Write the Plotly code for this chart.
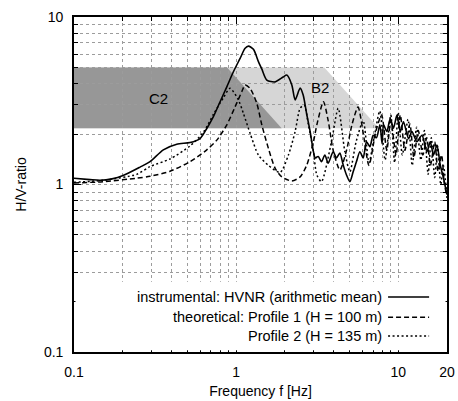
import plotly.graph_objects as go
import math

# ---------------- data ----------------
inst_f = [0.1, 0.1255, 0.1447, 0.1716, 0.2007, 0.2555, 0.2945, 0.3557, 0.4305, 0.52, 0.5995,
          0.6594, 0.7242, 0.7966, 0.8763, 0.9623, 1.0585, 1.1365, 1.191, 1.279, 1.373, 1.44,
          1.547, 1.741, 1.95, 2.056, 2.207, 2.313, 2.483, 2.593, 2.732, 2.863, 3.00, 3.074,
          3.208, 3.362, 3.528, 3.698, 3.97, 4.16, 4.366, 4.576, 4.797, 5.033, 5.275, 5.528,
          5.801, 6.081, 6.373, 6.688, 7.01, 7.345, 7.71, 7.95, 8.12, 8.51, 8.93, 9.35, 9.82,
          10.29, 10.78, 11.58, 12.15, 13.05, 14.01, 15.04, 15.76, 16.52, 17.34, 18.17, 19.04, 19.98]
inst_v = [1.09, 1.07, 1.06, 1.08, 1.13, 1.27, 1.37, 1.61, 1.74, 1.78, 1.88,
          2.16, 2.54, 3.12, 3.83, 4.71, 5.66, 6.5, 6.7, 6.41, 5.42, 4.9,
          4.2, 4.1, 4.38, 4.5, 3.93, 3.2, 3.76, 3.42, 2.6, 2.07, 1.57, 1.44,
          1.47, 1.37, 1.5, 1.34, 1.57, 1.44, 1.54, 1.31, 1.14, 1.04, 1.19, 1.37,
          1.57, 1.44, 1.8, 1.68, 1.97, 1.9, 2.27, 1.75, 2.27, 2.07, 2.48, 2.17, 2.6,
          2.07, 2.37, 1.88, 2.07, 1.8, 1.97, 1.57, 1.8, 1.5, 1.72, 1.31, 1.09, 0.87]

p1_f = [0.1, 0.1517, 0.2438, 0.2945, 0.3913, 0.52, 0.6594, 0.7602, 0.8763, 0.9858, 1.084,
        1.1365, 1.2204, 1.3418, 1.441, 1.583, 1.741, 1.915, 2.207, 2.483, 2.732, 3.00, 3.148,
        3.458, 3.7, 3.97, 4.37, 4.8, 5.2, 5.65, 6.1, 6.6, 7.3, 7.9, 8.5, 9.0, 9.7, 10.3, 11.0,
        11.8, 12.5, 13.3, 14.2, 15.0, 15.8, 16.8, 17.6, 18.5, 19.3, 20]
p1_v = [1.02, 1.04, 1.09, 1.12, 1.2, 1.37, 1.61, 1.84, 2.27, 2.91, 3.58,
        3.93, 3.75, 3.05, 2.27, 1.64, 1.25, 1.11, 1.05, 1.11, 1.31, 1.8, 2.27,
        3.12, 2.4, 1.6, 1.22, 1.6, 2.3, 2.9, 2.0, 1.3, 2.1, 2.6, 1.6, 2.4, 1.5, 2.6, 1.6,
        2.3, 1.45, 2.1, 1.5, 1.9, 1.3, 1.8, 1.2, 1.5, 1.0, 0.85]

p2_f = [0.1, 0.1517, 0.2438, 0.2945, 0.3913, 0.52, 0.6283, 0.7242, 0.835, 0.918, 1.033,
        1.109, 1.2204, 1.373, 1.583, 1.869, 2.103, 2.313, 2.483, 2.63, 2.795, 3.00, 3.148,
        3.362, 3.875, 4.263, 4.688, 5.033, 5.5, 6.08, 6.6, 7.1, 7.7, 8.3, 9.0, 9.5, 10.0,
        10.6, 11.5, 12.2, 13.0, 13.8, 14.5, 15.3, 16.0, 16.8, 17.5, 18.3, 19.0, 20]
p2_v = [1.03, 1.06, 1.15, 1.28, 1.42, 1.70, 2.05, 2.62, 3.3, 3.75, 3.2,
        2.66, 2.02, 1.5, 1.3, 1.18, 1.5, 2.07, 2.85, 2.98, 2.27, 1.57, 1.14,
        1.04, 1.8, 2.85, 1.57, 1.19, 1.8, 2.4, 1.35, 1.9, 2.75, 1.4, 2.6, 1.35, 2.7,
        1.5, 2.45, 1.3, 2.2, 1.4, 2.1, 1.15, 1.9, 1.1, 1.7, 1.0, 1.3, 0.83]

# criteria regions (frequency, ratio)
c2_f = [0.1, 0.1, 0.88, 1.91]
c2_v = [2.17, 5.0, 5.0, 2.17]
b2_f = [0.1, 0.1, 3.5, 7.6]
b2_v = [2.17, 5.0, 5.0, 2.17]

region_labels = ["C2", "B2"]
region_label_f = [0.33, 3.3]
region_label_v = [3.28, 3.77]

legend_texts = ["instrumental: HVNR (arithmetic mean)",
                "theoretical: Profile 1 (H = 100 m)",
                "Profile 2 (H = 135 m)"]

x_major = [0.1, 1, 10, 20]
x_major_text = ["0.1", "1", "10", "20"]
x_minor = [0.2, 0.3, 0.4, 0.5, 0.6, 0.7, 0.8, 0.9, 2, 3, 4, 5, 6, 7, 8, 9]
y_major = [0.1, 1, 10]
y_major_text = ["0.1", "1", "10"]
y_minor = [0.2, 0.3, 0.4, 0.5, 0.6, 0.7, 0.8, 0.9, 2, 3, 4, 5, 6, 7, 8, 9]

# ---------------- figure ----------------
FONT = "Liberation Sans, Arial, Helvetica, sans-serif"
fig = go.Figure()

def path_from(fs, vs):
    pts = [f"{f},{v}" for f, v in zip(fs, vs)]
    return "M" + " L".join(pts) + " Z"

shapes = [
    dict(type="path", path=path_from(b2_f, b2_v), xref="x", yref="y",
         fillcolor="#d6d6d6", line=dict(width=0), layer="below"),
    dict(type="path", path=path_from(c2_f, c2_v), xref="x", yref="y",
         fillcolor="#979797", line=dict(width=0), layer="below"),
    # opaque key box (curves never reach this area)
    dict(type="rect", xref="x domain", yref="y domain", x0=0.004, x1=0.996, y0=0.005, y1=0.21,
         fillcolor="white", line=dict(width=0), layer="above"),
]

styles = [dict(color="black", width=1.6, dash="solid"),
          dict(color="black", width=1.5, dash="5px,3px"),
          dict(color="black", width=1.5, dash="2px,2.5px")]

for fs, vs, st in [(inst_f, inst_v, styles[0]), (p1_f, p1_v, styles[1]), (p2_f, p2_v, styles[2])]:
    fig.add_trace(go.Scatter(x=fs, y=vs, mode="lines", line=dict(shape="spline", smoothing=0.7, **st),
                             showlegend=False, hoverinfo="skip", cliponaxis=True))

annotations = []
for t, f, v in zip(region_labels, region_label_f, region_label_v):
    annotations.append(dict(x=math.log10(f), y=math.log10(v), xref="x", yref="y", text=t,
                            showarrow=False, font=dict(family=FONT, size=15, color="black")))

# key (text right aligned, sample on right)
key_y = [0.164, 0.104, 0.048]
for t, ky, st in zip(legend_texts, key_y, styles):
    annotations.append(dict(x=0.83, y=ky, xref="paper", yref="paper", text=t, showarrow=False,
                            xanchor="right", yanchor="middle",
                            font=dict(family=FONT, size=14.5, color="black")))
    shapes.append(dict(type="line", xref="paper", yref="paper", x0=0.842, x1=0.952, y0=ky, y1=ky,
                       line=dict(color="black", width=st["width"], dash=st["dash"]), layer="above"))

grid = dict(gridcolor="#9c9c9c", griddash="dot", gridwidth=1)

fig.update_layout(
    width=458, height=401, autosize=False,
    margin=dict(l=74, r=11, t=17, b=49, pad=0, autoexpand=False),
    paper_bgcolor="white", plot_bgcolor="white",
    font=dict(family=FONT, size=14, color="black"),
    shapes=shapes, annotations=annotations,
    xaxis=dict(type="log", range=[-1, math.log10(20)], tickmode="array", tickvals=x_major,
               ticktext=x_major_text, ticks="inside", ticklen=7, tickwidth=1, tickcolor="black",
               showline=True, linecolor="black", linewidth=1.6, mirror="ticks", automargin=False,
               showgrid=True, **grid, zeroline=False, ticklabelstandoff=6,
               minor=dict(tickvals=x_minor, ticks="inside", ticklen=4, tickcolor="black",
                          showgrid=True, **grid),
               title=dict(text="Frequency f [Hz]", standoff=8, font=dict(size=14))),
    yaxis=dict(type="log", range=[-1, 1], tickmode="array", tickvals=y_major,
               ticktext=y_major_text, ticks="inside", ticklen=7, tickwidth=1, tickcolor="black",
               showline=True, linecolor="black", linewidth=1.6, mirror="ticks", automargin=False,
               showgrid=True, **grid, zeroline=False, ticklabelstandoff=6,
               minor=dict(tickvals=y_minor, ticks="inside", ticklen=4, tickcolor="black",
                          showgrid=True, **grid),
               title=dict(text="H/V-ratio", standoff=14, font=dict(size=14))),
)

fig.write_html("out.html")
